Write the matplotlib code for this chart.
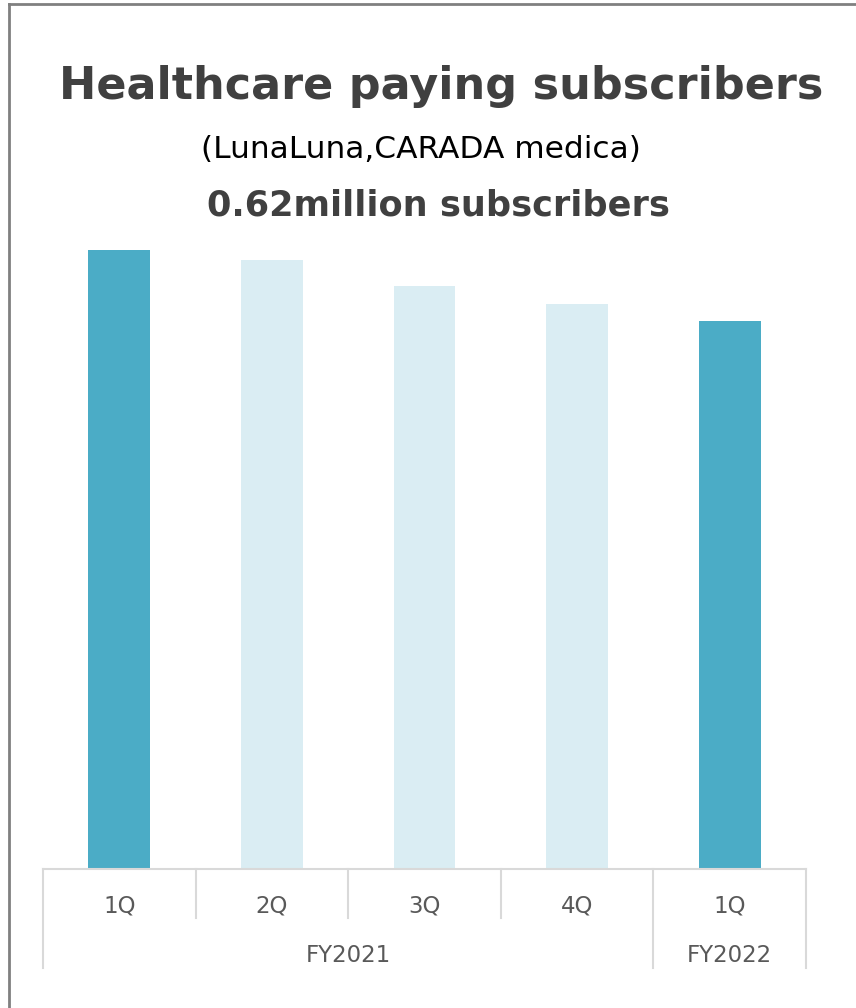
import matplotlib.pyplot as plt
from matplotlib.transforms import blended_transform_factory

# data (million subscribers)
quarters = ['1Q', '2Q', '3Q', '4Q', '1Q']
years = ['FY2021', 'FY2022']
year_spans = [(0, 4), (4, 5)]
subscribers = [0.700, 0.689, 0.660, 0.639, 0.620]
highlight = [True, False, False, False, True]

dark = '#4BACC6'
light = '#DAEDF3'
grid_col = '#D9D9D9'
text_col = '#595959'

W, H = 856, 1008
fig = plt.figure(figsize=(W / 100, H / 100), dpi=100)
fig.patch.set_facecolor('white')

# frame around the slide panel (top and left edges visible)
fig.add_artist(plt.Line2D([9 / W, 9 / W], [0, 1 - 4 / H], transform=fig.transFigure,
                          color='#808080', lw=2))
fig.add_artist(plt.Line2D([9 / W, 1], [1 - 4 / H, 1 - 4 / H], transform=fig.transFigure,
                          color='#808080', lw=2))

# titles
fig.text(441 / W, 1 - 86 / H, 'Healthcare paying subscribers', ha='center', va='center',
         fontsize=32, fontweight='bold', color='#404040')
fig.text(421 / W, 1 - 149 / H, '(LunaLuna,CARADA medica)', ha='center', va='center',
         fontsize=22.5, color='black')
fig.text(438 / W, 1 - 206 / H, '0.62million subscribers', ha='center', va='center',
         fontsize=25.3, fontweight='bold', color='#404040')

# axes: baseline at y=869 px, spans x 43..806 px
top_px, base_px = 230, 869
ax = fig.add_axes([43 / W, 1 - base_px / H, (806 - 43) / W, (base_px - top_px) / H])
x = list(range(len(subscribers)))
colors = [dark if h else light for h in highlight]
ax.bar(x, subscribers, width=0.405, color=colors)
ax.set_xlim(-0.5, len(subscribers) - 0.5)
ymax = subscribers[-1] / (base_px - 321) * (base_px - top_px)
ax.set_ylim(0, ymax)
for s in ax.spines.values():
    s.set_visible(False)
ax.set_xticks([])
ax.set_yticks([])
ax.patch.set_alpha(0)

# category axis with two levels
tr = blended_transform_factory(ax.transData, fig.transFigure)
y_base = 1 - base_px / H
y_q = 1 - 918 / H
y_fy = 1 - 968 / H
ax.plot([-0.5, len(subscribers) - 0.5], [y_base, y_base], transform=tr,
        color=grid_col, lw=1.5, clip_on=False)
group_edges = set()
for a, b in year_spans:
    group_edges.add(a)
    group_edges.add(b)
for i in range(len(subscribers) + 1):
    y_end = y_fy if i in group_edges else y_q
    ax.plot([i - 0.5, i - 0.5], [y_base, y_end], transform=tr,
            color=grid_col, lw=1.5, clip_on=False)
for i, q in enumerate(quarters):
    ax.text(i, 1 - 906 / H, q, transform=tr, ha='center', va='center',
            fontsize=16.5, color=text_col)
for (a, b), yr in zip(year_spans, years):
    ax.text((a + b) / 2 - 0.5, 1 - 955 / H, yr, transform=tr, ha='center', va='center',
            fontsize=16.5, color=text_col)

fig.savefig('out.png', dpi=100)
